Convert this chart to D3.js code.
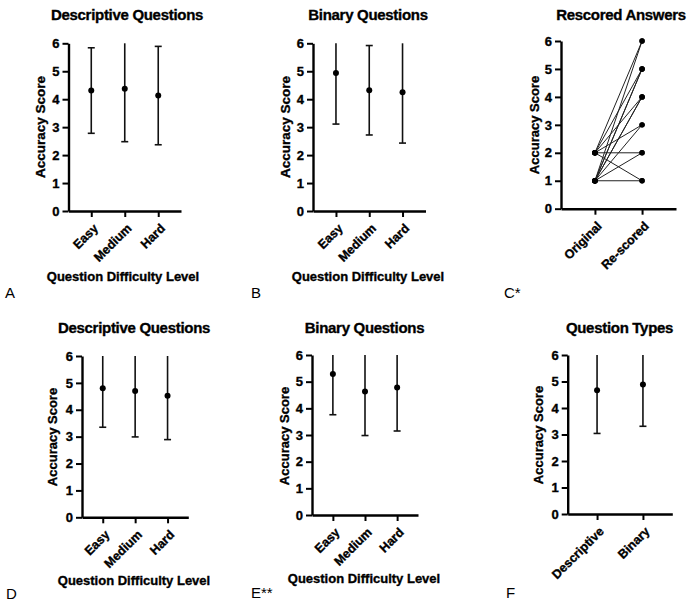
<!DOCTYPE html>
<html>
<head>
<meta charset="utf-8">
<script src="https://cdn.jsdelivr.net/npm/d3@7"></script>
<style>
  html, body { margin: 0; padding: 0; background: #fff; }
  svg { display: block; }
  text { font-family: "Liberation Sans", Arial, sans-serif; fill: #000; }
  .heavy { stroke: #000; stroke-width: 0.35px; }
</style>
</head>
<body>
<svg id="chart" width="700" height="609"></svg>
<script>
// ---------------- DATA ----------------
const yTickValues = [0, 1, 2, 3, 4, 5, 6];
const difficultyLevels = ["Easy", "Medium", "Hard"];
const questionTypes = ["Descriptive", "Binary"];
const rescoreStages = ["Original", "Re-scored"];

// Panel A: Descriptive Questions (mean, SD)
const descMeanA = [4.31, 4.37, 4.13];
const descSdA   = [1.53, 1.89, 1.76];
// Panel B: Binary Questions
const binMeanB = [4.94, 4.32, 4.25];
const binSdB   = [1.83, 1.60, 1.82];
// Panel C: Rescored answers (paired)
const originalScores = [2, 1, 2, 1, 1, 2, 1, 1, 2, 1, 2, 1, 2, 1];
const rescoredScores = [6, 6, 5, 5, 5, 4, 4, 4, 3, 3, 2, 2, 1, 1];
// Panel D: Descriptive Questions (after rescoring)
const descMeanD = [4.80, 4.70, 4.52];
const descSdD   = [1.45, 1.71, 1.63];
// Panel E: Binary Questions (after rescoring)
const binMeanE = [5.29, 4.63, 4.78];
const binSdE   = [1.53, 1.65, 1.63];
// Panel F: Question Types
const typeMeanF = [4.67, 4.89];
const typeSdF   = [1.63, 1.58];

const titles = ["Descriptive Questions", "Binary Questions", "Rescored Answers",
                "Descriptive Questions", "Binary Questions", "Question Types"];
const panelLetters = ["A", "B", "C*", "D", "E**", "F"];
const yAxisTitle = "Accuracy Score";
const xAxisTitle = "Question Difficulty Level";

// ---------------- LAYOUT ----------------
const svg = d3.select("#chart");
svg.append("rect").attr("width", 700).attr("height", 609).attr("fill", "#fff");

const layouts = [
  {ax: 68.5, xEnd: 181,   yTop: 43.3, yBot: 211,   pad: 0.68, title: [127, 20],   ylab: [40, 127],  xlab: [123, 281], letter: [5, 298],   yFs: 13.5},
  {ax: 313,  xEnd: 425.5, yTop: 43.3, yBot: 211,   pad: 0.69, title: [368, 20],   ylab: [285, 127], xlab: [368, 281], letter: [251, 298], yFs: 13.5},
  {ax: 561,  xEnd: 676,   yTop: 41,   yBot: 208.7, pad: 0.72, title: [621, 19.5], ylab: [534, 125], xlab: null,       letter: [504, 298], yFs: 13},
  {ax: 82,   xEnd: 188.3, yTop: 356,  yBot: 517.3, pad: 0.64, title: [134, 333],  ylab: [52, 437],  xlab: [134, 585], letter: [6, 599],   yFs: 13},
  {ax: 312,  xEnd: 418,   yTop: 355,  yBot: 515,   pad: 0.65, title: [364.5, 333],ylab: [284, 436], xlab: [364, 583], letter: [251, 598], yFs: 13},
  {ax: 567.7,xEnd: 672.3, yTop: 355,  yBot: 514,   pad: 0.64, title: [619.5, 333],ylab: [538, 435], xlab: null,       letter: [506, 598], yFs: 13}
];

function drawFrame(i, cats) {
  const L = layouts[i];
  const g = svg.append("g");
  const y = d3.scaleLinear().domain([0, 6]).range([L.yBot, L.yTop]);
  const x = d3.scalePoint().domain(cats).range([L.ax, L.xEnd]).padding(L.pad);

  // y axis
  const ya = g.append("g").attr("transform", `translate(${L.ax},0)`)
    .call(d3.axisLeft(y).tickValues(yTickValues).tickSize(6).tickSizeOuter(0).tickPadding(3).tickFormat(d3.format("d")));
  ya.select(".domain").attr("stroke-width", 2.4).attr("stroke", "#000");
  ya.selectAll(".tick line").attr("stroke-width", 2).attr("stroke", "#000");
  ya.selectAll(".tick text").attr("font-size", 13).attr("font-weight", "bold")
    .attr("class", "heavy")
    .attr("font-family", "'Liberation Sans', Arial, sans-serif");

  // x axis
  const xa = g.append("g").attr("transform", `translate(0,${L.yBot})`)
    .call(d3.axisBottom(x).tickSize(6).tickSizeOuter(0));
  xa.select(".domain").attr("stroke-width", 2.4).attr("stroke", "#000");
  xa.selectAll(".tick line").attr("stroke-width", 2).attr("stroke", "#000");
  xa.selectAll(".tick text")
    .attr("font-size", 12.5).attr("font-weight", "bold")
    .attr("class", "heavy")
    .attr("font-family", "'Liberation Sans', Arial, sans-serif")
    .attr("text-anchor", "end").attr("x", 0).attr("y", 0).attr("dy", "0.35em")
    .attr("transform", "translate(4,15) rotate(-45)");
  ya.raise();

  // titles
  g.append("text").attr("x", L.title[0]).attr("y", L.title[1]).attr("class", "heavy")
    .attr("text-anchor", "middle").attr("font-size", 15).attr("font-weight", "bold")
    .attr("letter-spacing", -0.3).text(titles[i]);
  g.append("text").attr("transform", `translate(${L.ylab[0]},${L.ylab[1]}) rotate(-90)`)
    .attr("text-anchor", "middle").attr("dy", "0.35em").attr("class", "heavy")
    .attr("font-size", L.yFs).attr("font-weight", "bold").text(yAxisTitle);
  if (L.xlab) {
    g.append("text").attr("x", L.xlab[0]).attr("y", L.xlab[1]).attr("class", "heavy")
      .attr("text-anchor", "middle").attr("font-size", 13).attr("font-weight", "bold")
      .text(xAxisTitle);
  }
  g.append("text").attr("x", L.letter[0]).attr("y", L.letter[1])
    .attr("font-size", 15).text(panelLetters[i]);
  return {g, x, y};
}

function drawErrorPanel(i, cats, means, sds) {
  const {g, x, y} = drawFrame(i, cats);
  const cap = 3.5;
  cats.forEach((c, k) => {
    const cx = x(c);
    const lo = means[k] - sds[k];
    const hiRaw = means[k] + sds[k];
    const hi = Math.min(6, hiRaw);
    g.append("line").attr("x1", cx).attr("x2", cx).attr("y1", y(lo)).attr("y2", y(hi))
      .attr("stroke", "#111").attr("stroke-width", 1.6);
    g.append("line").attr("x1", cx - cap).attr("x2", cx + cap).attr("y1", y(lo)).attr("y2", y(lo))
      .attr("stroke", "#111").attr("stroke-width", 1.6);
    if (hiRaw <= 6) {
      g.append("line").attr("x1", cx - cap).attr("x2", cx + cap).attr("y1", y(hi)).attr("y2", y(hi))
        .attr("stroke", "#111").attr("stroke-width", 1.6);
    }
    g.append("circle").attr("cx", cx).attr("cy", y(means[k])).attr("r", 3).attr("fill", "#000");
  });
}

function drawPairedPanel(i) {
  const {g, x, y} = drawFrame(i, rescoreStages);
  originalScores.forEach((o, k) => {
    g.append("line")
      .attr("x1", x(rescoreStages[0])).attr("y1", y(o))
      .attr("x2", x(rescoreStages[1])).attr("y2", y(rescoredScores[k]))
      .attr("stroke", "#222").attr("stroke-width", 1);
  });
  originalScores.forEach((o, k) => {
    g.append("circle").attr("cx", x(rescoreStages[0])).attr("cy", y(o)).attr("r", 2.7).attr("fill", "#000");
    g.append("circle").attr("cx", x(rescoreStages[1])).attr("cy", y(rescoredScores[k])).attr("r", 2.7).attr("fill", "#000");
  });
}

drawErrorPanel(0, difficultyLevels, descMeanA, descSdA);
drawErrorPanel(1, difficultyLevels, binMeanB, binSdB);
drawPairedPanel(2);
drawErrorPanel(3, difficultyLevels, descMeanD, descSdD);
drawErrorPanel(4, difficultyLevels, binMeanE, binSdE);
drawErrorPanel(5, questionTypes, typeMeanF, typeSdF);
</script>
</body>
</html>
